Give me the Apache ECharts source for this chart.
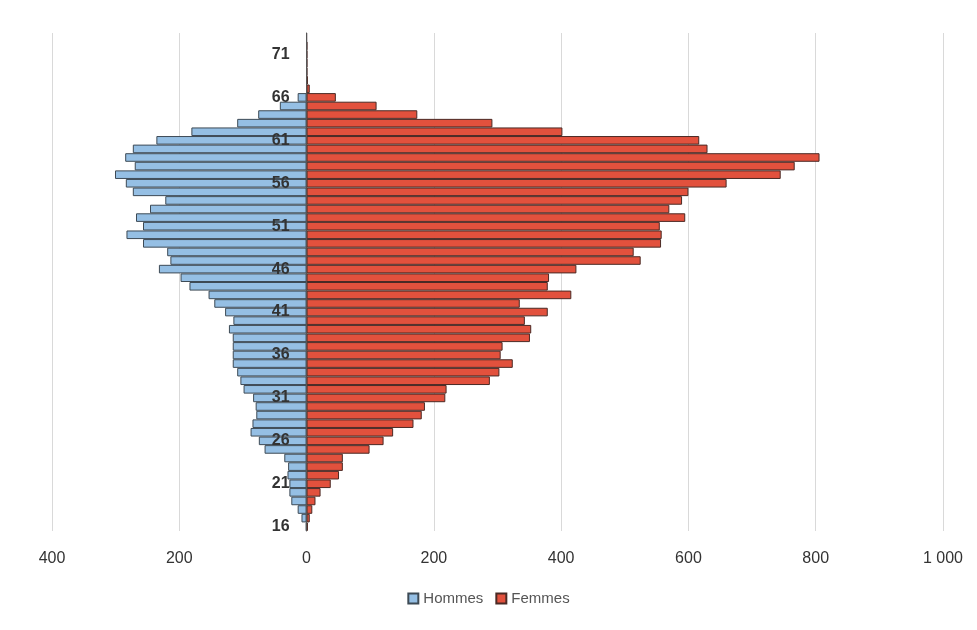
<!DOCTYPE html>
<html>
<head>
<meta charset="utf-8">
<script src="https://cdn.jsdelivr.net/npm/echarts@6/dist/echarts.min.js"></script>
<style>
html,body{margin:0;padding:0;background:#fff;}
#chart{width:977px;height:630px;}
</style>
</head>
<body>
<div id="chart"></div>
<script>
// Ages 16 .. 73
const ages = [16,17,18,19,20,21,22,23,24,25,26,27,28,29,30,31,32,33,34,35,36,37,38,39,40,41,42,43,44,45,46,47,48,49,50,51,52,53,54,55,56,57,58,59,60,61,62,63,64,65,66,67,68,69,70,71,72,73];
const hommes = [1,8,14,24,27,27,30,29,35,66,75,88,85,79,80,84,99,104,109,116,116,116,116,122,115,128,145,154,184,198,232,214,219,257,283,257,268,246,222,273,284,301,270,285,273,236,181,109,76,42,14,0,0,0,0,0,0,0];
const femmes = [2,5,9,14,22,38,51,57,57,99,121,136,168,181,186,218,220,288,303,324,305,308,351,353,343,379,335,416,379,381,424,525,514,557,558,555,595,570,590,600,660,745,767,806,630,617,402,292,174,110,46,5,2,1,1,1,1,0];
const xTicks = [-400,-200,0,200,400,600,800,1000];

const W = 977, gridLeft = 52, gridRight = 34;
const plotW = W - gridLeft - gridRight;
const xMin = xTicks[0], xMax = xTicks[xTicks.length-1];
// put the category axis where the value axis crosses 0
const zeroOffset = -plotW * (0 - xMin) / (xMax - xMin);

const chart = echarts.init(document.getElementById('chart'));
const fmt = v => { const a = Math.abs(v); return a >= 1000 ? String(a).replace(/\B(?=(\d{3})+(?!\d))/g, ' ') : String(a); };
chart.setOption({
  backgroundColor: '#fff',
  animation: false,
  grid: { left: gridLeft, right: gridRight, top: 33, bottom: 99, containLabel: false },
  legend: {
    bottom: 19, left: 'center', icon: 'rect',
    itemWidth: 10, itemHeight: 10, itemGap: 12,
    textStyle: { fontFamily: 'Liberation Sans', fontSize: 15, color: '#555' },
    data: ['Hommes', 'Femmes']
  },
  xAxis: {
    type: 'value', min: xMin, max: xMax, interval: 200,
    axisLine: { show: false }, axisTick: { show: false },
    splitLine: { show: true, lineStyle: { color: '#d9d9d9', width: 1 } },
    axisLabel: { formatter: fmt, fontFamily: 'Liberation Sans', fontSize: 16, color: '#333', margin: 20 }
  },
  yAxis: {
    type: 'category', data: ages, z: 5, position: 'left', offset: zeroOffset,
    axisLine: { show: true, onZero: false, lineStyle: { color: '#555', width: 1 } },
    axisTick: { show: false },
    axisLabel: { interval: 4, fontFamily: 'Liberation Sans', fontWeight: 'bold', fontSize: 16, color: '#333', margin: 17 }
  },
  series: [
    { name: 'Hommes', type: 'bar', stack: 'pyr', barCategoryGap: 0,
      itemStyle: { color: '#95bfe4', borderColor: '#3d4a55', borderWidth: 1 },
      data: hommes.map(v => -v) },
    { name: 'Femmes', type: 'bar', stack: 'pyr', barCategoryGap: 0,
      itemStyle: { color: '#e2513d', borderColor: '#4a2a25', borderWidth: 1 },
      data: femmes }
  ]
});
</script>
</body>
</html>
